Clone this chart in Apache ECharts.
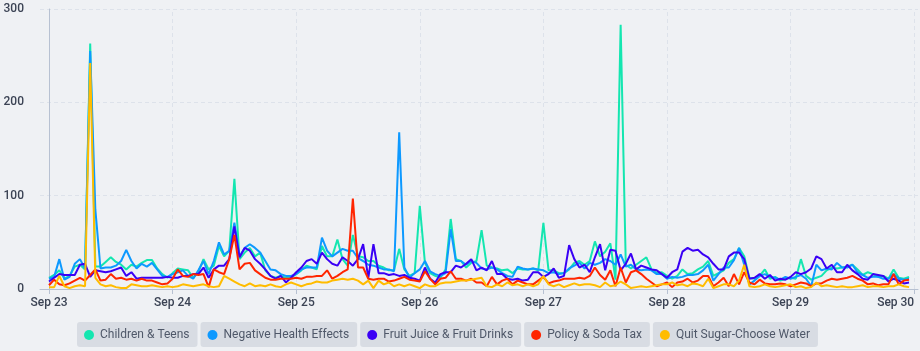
<!DOCTYPE html>
<html><head><meta charset="utf-8">
<script src="https://cdn.jsdelivr.net/npm/echarts@6/dist/echarts.min.js"></script>
<style>html,body{margin:0;padding:0;background:#eff1f4;}#c{width:920px;height:351px;}</style>
</head><body><div id="c"></div>
<script>
const seriesNames = ['Children & Teens', 'Negative Health Effects', 'Fruit Juice & Fruit Drinks', 'Policy & Soda Tax', 'Quit Sugar-Choose Water'];
const seriesColors = ['#14e6b0', '#0d99ff', '#3a00f5', '#ff2500', '#ffbc00'];
const xTickLabels = ['Sep 23', 'Sep 24', 'Sep 25', 'Sep 26', 'Sep 27', 'Sep 28', 'Sep 29', 'Sep 30'];
const xTickHours = [0, 24, 48, 72, 96, 120, 144, 168];
const yTicks = [0, 100, 200, 300];
// hourly values, Sep 23 00:00 .. Sep 29 23:00
const childrenTeens = [
  12,15,20,11,14,24,26,21,263,24,24,29,34,29,26,21,26,24,28,31,31,22,16,12,17,22,21,20,
  12,18,32,21,25,46,35,41,118,32,39,44,35,39,20,14,12,14,12,12,16,20,25,23,21,46,35,35,
  53,32,25,58,35,34,30,30,25,23,20,20,43,21,14,17,89,28,17,14,12,21,75,32,30,23,28,30,
  63,25,23,22,20,21,17,22,21,21,22,20,71,20,20,17,17,21,28,30,26,30,51,35,40,49,10,283,
  26,22,26,30,34,21,17,18,14,11,14,21,16,17,21,24,30,14,17,20,28,32,44,35,12,11,14,21,
  11,13,9,11,12,11,32,14,10,12,14,20,23,22,23,24,26,21,15,18,16,13,14,11,21,12,11,13
];
const negativeHealth = [
  11,13,32,10,13,27,32,22,255,85,22,23,23,25,30,42,30,22,27,24,28,21,14,13,16,18,20,14,
  11,20,30,16,30,50,37,41,71,35,44,48,44,39,30,21,20,16,14,14,16,21,23,23,23,55,41,35,
  39,43,41,41,33,30,26,25,23,21,21,19,168,23,12,17,21,30,19,16,14,17,64,30,30,26,30,28,
  22,21,23,21,17,14,13,24,22,21,22,21,20,17,18,16,17,22,25,28,22,28,26,28,32,30,26,37,
  24,26,21,20,21,20,16,16,11,13,12,13,15,15,16,20,26,9,16,23,23,31,44,26,5,9,14,16,
  13,12,10,13,11,13,15,11,3,26,20,22,21,28,23,23,26,18,15,12,13,13,11,11,16,11,10,11
];
const fruitJuice = [
  8,12,16,15,15,15,26,27,13,20,19,18,19,21,23,14,18,11,12,12,12,12,12,13,12,12,14,14,
  16,16,23,12,21,25,25,32,67,34,44,41,32,27,21,14,11,14,7,12,18,23,30,32,27,39,32,27,
  25,34,30,25,32,48,12,48,17,17,15,16,14,15,12,11,9,23,11,7,16,18,18,25,23,27,32,20,
  23,20,30,16,16,11,10,11,9,10,18,18,13,16,22,12,14,47,32,23,26,18,34,48,20,42,41,20,
  27,38,21,25,23,21,20,16,12,18,21,40,44,41,42,37,34,27,21,21,35,39,39,32,11,12,16,11,
  15,9,11,10,13,18,16,18,22,35,32,22,26,18,18,26,20,16,11,10,16,15,14,8,11,9,6,7
];
const policySoda = [
  4,10,5,4,6,9,12,9,15,21,9,10,16,11,12,10,11,9,11,9,9,7,5,6,11,21,14,13,
  16,15,16,2,21,18,16,32,58,21,27,28,20,16,12,10,10,11,11,11,12,11,13,13,14,14,20,11,
  14,18,21,97,23,23,11,10,11,11,8,9,11,13,10,9,8,19,11,5,11,12,19,11,11,9,11,7,
  7,3,13,5,9,11,5,9,7,5,5,9,13,6,8,9,11,11,11,12,11,14,23,15,10,20,3,23,
  7,18,20,16,11,7,3,5,7,2,7,8,11,7,9,14,14,3,7,12,3,16,5,18,7,5,10,6,
  5,5,6,5,3,5,7,6,3,6,6,9,11,10,11,12,14,11,9,5,6,4,5,5,16,5,9,10
];
const quitSugar = [
  2,2,14,3,1,3,4,3,242,12,5,3,4,2,1,1,5,4,3,3,4,3,2,3,2,3,5,4,
  3,4,5,3,2,3,14,11,8,5,3,6,3,4,3,5,3,2,5,7,5,3,5,6,8,7,7,9,
  10,11,10,11,9,5,9,1,9,5,7,3,5,3,5,3,1,5,3,3,6,7,7,8,9,9,10,11,
  12,3,2,5,3,7,4,5,3,5,3,5,14,5,3,5,2,4,6,4,5,5,4,2,7,3,4,8,
  5,1,2,3,2,3,4,5,5,7,4,5,3,6,5,3,11,1,3,5,5,3,9,26,3,2,3,5,
  3,2,3,4,5,2,3,1,2,7,3,4,3,2,3,2,2,3,4,2,3,3,2,3,3,5,3,2
];
const allValues = [childrenTeens, negativeHealth, fruitJuice, policySoda, quitSugar];

const toPairs = arr => arr.map((v, i) => [i, v]);

const rich = { t: { color: '#4f5869', fontSize: 12, fontFamily: 'Roboto', padding: [0, 0, 0, 6] } };
seriesColors.forEach((c, i) => { rich['d' + i] = { width: 10, height: 10, borderRadius: 5, backgroundColor: c }; });

const gridLineStyle = { color: '#dde2ea', type: [4, 3], width: 1 };

const chart = echarts.init(document.getElementById('c'), null, { renderer: 'canvas' });
chart.setOption({
  backgroundColor: '#eff1f4',
  animation: false,
  textStyle: { fontFamily: 'Roboto' },
  grid: { left: 40, right: 2, top: 9, bottom: 62 },
  xAxis: {
    type: 'value',
    min: -1.748,
    max: 168.74,
    axisLine: { show: true, lineStyle: { color: '#b7c1d2', width: 1 } },
    axisTick: { show: true, length: 5, lineStyle: { color: '#b7c1d2' }, customValues: xTickHours },
    axisLabel: {
      customValues: xTickHours,
      alignMaxLabel: 'right',
      color: '#3b4354', fontSize: 12, fontWeight: 500, fontFamily: 'Roboto', margin: 8,
      formatter: v => xTickLabels[Math.round(v / 24)]
    },
    splitLine: { show: false }
  },
  yAxis: {
    type: 'value', min: yTicks[0], max: yTicks[yTicks.length - 1], interval: 100,
    axisLine: { show: true, lineStyle: { color: '#b7c1d2', width: 1 } },
    axisTick: { show: false },
    axisLabel: { color: '#3b4354', fontSize: 12, fontWeight: 500, fontFamily: 'Roboto', margin: 16 },
    splitLine: { show: true, lineStyle: gridLineStyle }
  },
  legend: {
    bottom: 4, left: 72, padding: 0,
    icon: 'none', itemWidth: 0, itemHeight: 0, itemGap: -2,
    selectedMode: false,
    data: seriesNames,
    formatter: name => '{d' + seriesNames.indexOf(name) + '| }{t|' + name + '}',
    textStyle: { backgroundColor: '#d8dce3', borderRadius: 3, padding: [6, 8, 5, 7], lineHeight: 14, rich: rich }
  },
  series: [{
    name: '_grid', type: 'line', data: [], z: 0, silent: true,
    markLine: {
      silent: true, z: 0, symbol: ['none', 'none'], label: { show: false },
      lineStyle: gridLineStyle, emphasis: { disabled: true },
      data: xTickHours.map(h => ({ xAxis: h }))
    }
  }].concat(seriesNames.map((n, i) => ({
    name: n, type: 'line', showSymbol: false, symbol: 'none',
    data: toPairs(allValues[i]),
    lineStyle: { color: seriesColors[i], width: 2 },
    itemStyle: { color: seriesColors[i] },
    z: 2 + i
  })))
});
</script></body></html>
